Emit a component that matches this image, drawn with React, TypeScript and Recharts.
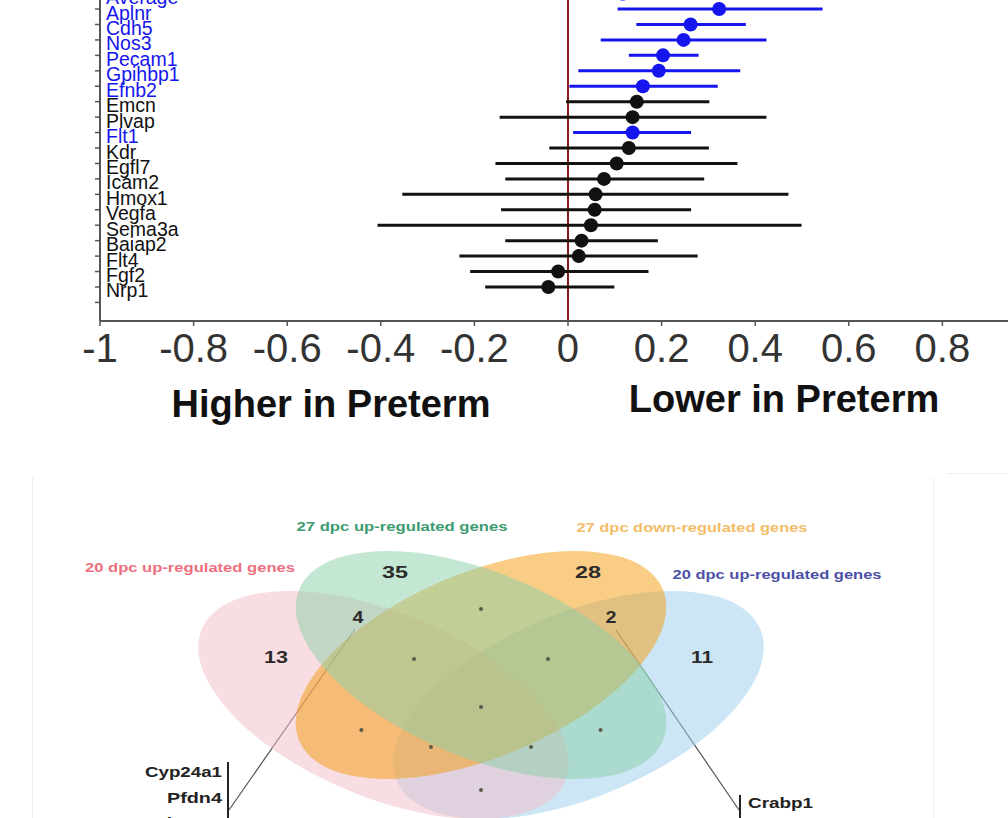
import React from "react";
import { ErrorBar, ReferenceLine, Scatter, ScatterChart, XAxis, YAxis } from "recharts";

// forest plot: log fold change with 95% interval per gene
const genes = [
  "Average", "Aplnr", "Cdh5", "Nos3", "Pecam1", "Gpihbp1", "Efnb2", "Emcn", "Plvap", "Flt1",
  "Kdr", "Egfl7", "Icam2", "Hmox1", "Vegfa", "Sema3a", "Baiap2", "Flt4", "Fgf2", "Nrp1",
];
const means = [
  0.117, 0.323, 0.262, 0.247, 0.203, 0.194, 0.16, 0.147, 0.138, 0.138,
  0.13, 0.104, 0.077, 0.059, 0.057, 0.049, 0.029, 0.023, -0.021, -0.042,
];
const lows = [
  0.03, 0.106, 0.146, 0.07, 0.13, 0.022, 0.003, -0.004, -0.146, 0.011,
  -0.04, -0.155, -0.134, -0.354, -0.143, -0.407, -0.134, -0.232, -0.209, -0.177,
];
const highs = [
  0.2, 0.544, 0.38, 0.424, 0.279, 0.368, 0.32, 0.302, 0.424, 0.263,
  0.301, 0.362, 0.291, 0.471, 0.263, 0.499, 0.192, 0.277, 0.172, 0.099,
];
const endothelialGenes = ["Average", "Aplnr", "Cdh5", "Nos3", "Pecam1", "Gpihbp1", "Efnb2", "Flt1"];
const xTicks = [-1, -0.8, -0.6, -0.4, -0.2, 0, 0.2, 0.4, 0.6, 0.8, 1];

// venn diagram
const vennSetNames = [
  "20 dpc up-regulated genes",
  "27 dpc up-regulated genes",
  "27 dpc down-regulated genes",
  "20 dpc up-regulated genes",
];
const vennCounts = ["35", "28", "4", "2", "13", "11"];
const listLeft = ["Cyp24a1", "Pfdn4", "Slc12a2"];
const listRight = ["Crabp1"];

const FONT = "'Liberation Sans', Arial, Helvetica, sans-serif";
const BLUE = "#1515ee";
const INK = "#111";

const rows = genes.map((gene, i) => ({
  gene,
  row: i,
  mean: means[i],
  err: [means[i] - lows[i], highs[i] - means[i]],
}));
const blueRows = rows.filter((r) => endothelialGenes.includes(r.gene));
const blackRows = rows.filter((r) => !endothelialGenes.includes(r.gene));
const rowTicks = [...genes.map((_, i) => i), genes.length];

function GeneTick(props: any) {
  const { x, y, payload } = props;
  const gene = genes[payload.value];
  if (!gene) return <g />;
  return (
    <text
      x={x + 11}
      y={y + 3.5}
      dominantBaseline="central"
      fontSize={19.5}
      fontFamily={FONT}
      fill={endothelialGenes.includes(gene) ? BLUE : INK}
    >
      {gene}
    </text>
  );
}

const dot = (color: string) => (p: any) => <circle cx={p.cx} cy={p.cy} r={7} fill={color} />;

// venn layout in unit space (R VennDiagram quad layout)
const VW = 650;
const VH = 400;
const ellipseFill = ["#f1bbc5", "#89cfa7", "#f39b0b", "#9bcded"];
const ellipseU = [0.35, 0.5, 0.5, 0.65];
const ellipseV = [0.47, 0.57, 0.57, 0.47];
const ellipseRot = [-45, -45, 45, 45];
const drawOrder = [3, 0, 2, 1];
const ellipses = drawOrder.map((i) => ({ u: ellipseU[i], v: ellipseV[i], rot: ellipseRot[i], fill: ellipseFill[i] }));

const titleColor = ["#ec6f7d", "#3c9c70", "#f3bd68", "#4b4fa6"];
const titles = vennSetNames.map((name, i) => ({
  name,
  u: [0.0523, 0.3785, 0.8246, 0.9554][i],
  v: [0.815, 0.9175, 0.915, 0.7975][i],
  w: [210, 211, 231, 209][i],
  color: titleColor[i],
}));
const counts = vennCounts.map((label, i) => ({
  label,
  u: [0.3677, 0.6646, 0.3108, 0.7, 0.1846, 0.84][i],
  v: [0.8025, 0.8025, 0.69, 0.69, 0.59, 0.59][i],
  w: [26, 26, 11, 11, 24, 22][i],
}));
const emptyCells = [
  { u: 0.5, v: 0.71 }, { u: 0.397, v: 0.585 }, { u: 0.603, v: 0.585 },
  { u: 0.5, v: 0.465 }, { u: 0.316, v: 0.4075 }, { u: 0.684, v: 0.4075 },
  { u: 0.423, v: 0.365 }, { u: 0.577, v: 0.365 }, { u: 0.5, v: 0.2575 },
];
const leftLabels = listLeft.map((label, i) => ({ label, u: 0.1015, v: [0.3025, 0.2375, 0.175][i], w: [77, 55, 67][i] }));
const rightLabels = listRight.map((label) => ({ label, u: 0.9108, v: 0.225, w: 65 }));

const ellipseShape = (p: any) => (
  <ellipse
    cx={0}
    cy={0}
    rx={0.35}
    ry={0.2}
    fill={p.payload.fill}
    fillOpacity={0.5}
    transform={`translate(${p.cx} ${p.cy}) scale(${VW} ${-VH}) rotate(${p.payload.rot})`}
  />
);

const textShape =
  (size: number, anchor: "start" | "middle" | "end", color?: string) => (p: any) => (
    <text
      x={p.cx}
      y={p.cy}
      textAnchor={anchor}
      dominantBaseline="central"
      fontSize={size}
      fontWeight="bold"
      fontFamily={FONT}
      fill={color ?? p.payload.color ?? "#2b2b2b"}
      textLength={p.payload.w}
      lengthAdjust="spacingAndGlyphs"
    >
      {p.payload.label ?? p.payload.name}
    </text>
  );

function ForestPlot() {
  return (
    <ScatterChart width={1056} height={410.96} margin={{ top: 8.16, right: 20, bottom: 0, left: 0 }}>
      <XAxis
        type="number"
        dataKey="mean"
        domain={[-1, 1]}
        ticks={xTicks}
        interval={0}
        allowDataOverflow
        height={60}
        tickSize={5}
        tickMargin={8}
        axisLine={{ stroke: "#555", strokeWidth: 2 }}
        tickLine={{ stroke: "#555", strokeWidth: 1.5 }}
        tick={{ fontSize: 40, fill: "#333", fontFamily: FONT }}
      />
      <YAxis
        type="number"
        dataKey="row"
        reversed
        domain={[-1, 21.2]}
        ticks={rowTicks}
        interval={0}
        allowDataOverflow
        width={100}
        tickSize={5}
        tickMargin={0}
        axisLine={{ stroke: "#555", strokeWidth: 2 }}
        tickLine={{ stroke: "#555", strokeWidth: 1.5 }}
        tick={<GeneTick />}
      />
      <ReferenceLine x={0} stroke="#8b1a1a" strokeWidth={2} />
      <Scatter data={blackRows} shape={dot(INK)} isAnimationActive={false}>
        <ErrorBar dataKey="err" direction="x" width={0} stroke={INK} strokeWidth={3} />
      </Scatter>
      <Scatter data={blueRows} shape={dot(BLUE)} isAnimationActive={false}>
        <ErrorBar dataKey="err" direction="x" width={0} stroke={BLUE} strokeWidth={3} />
      </Scatter>
    </ScatterChart>
  );
}

function VennPanel() {
  return (
    <ScatterChart width={1008} height={480} margin={{ top: 40, right: 1008 - 156 - VW, bottom: 40, left: 156 }}>
      <XAxis type="number" dataKey="u" domain={[0, 1]} hide />
      <YAxis type="number" dataKey="v" domain={[0, 1]} hide />
      <Scatter data={ellipses} shape={ellipseShape} isAnimationActive={false} />
      <Scatter data={emptyCells} shape={(p: any) => <circle cx={p.cx} cy={p.cy} r={2} fill="#5a5a4a" />} isAnimationActive={false} />
      <Scatter data={counts} shape={textShape(16.5, "middle", "#2b2b2b")} isAnimationActive={false} />
      <Scatter data={titles} shape={textShape(13.5, "middle")} isAnimationActive={false} />
      <ReferenceLine segment={[{ x: 0.3062, y: 0.66 }, { x: 0.1123, y: 0.2075 }]} stroke="#555" strokeWidth={1.2} />
      <ReferenceLine segment={[{ x: 0.7077, y: 0.6575 }, { x: 0.8969, y: 0.2075 }]} stroke="#555" strokeWidth={1.2} />
      <ReferenceLine segment={[{ x: 0.1108, y: 0.3275 }, { x: 0.1108, y: 0.12 }]} stroke="#222" strokeWidth={2} />
      <ReferenceLine segment={[{ x: 0.8985, y: 0.245 }, { x: 0.8985, y: 0.12 }]} stroke="#222" strokeWidth={2} />
      <Scatter data={leftLabels} shape={textShape(14, "end", "#222")} isAnimationActive={false} />
      <Scatter data={rightLabels} shape={textShape(14, "start", "#222")} isAnimationActive={false} />
    </ScatterChart>
  );
}

const axisTitle: React.CSSProperties = {
  position: "absolute",
  transform: "translateX(-50%)",
  fontFamily: FONT,
  fontWeight: "bold",
  fontSize: 38,
  lineHeight: 1,
  whiteSpace: "nowrap",
  color: "#111",
};

const faint: React.CSSProperties = { position: "absolute", background: "#efefef" };

export default function App() {
  return (
    <div style={{ position: "absolute", left: 0, top: 0, width: 1008, height: 818, overflow: "hidden", background: "#fff" }}>
      <div style={{ position: "absolute", left: 0, top: -30 }}>
        <ForestPlot />
      </div>
      <div style={{ ...axisTitle, left: 331, top: 384.5 }}>Higher in Preterm</div>
      <div style={{ ...axisTitle, left: 784, top: 379.5 }}>Lower in Preterm</div>
      <div style={{ ...faint, left: 32, top: 477, width: 1, height: 341 }} />
      <div style={{ ...faint, left: 933, top: 477, width: 1, height: 341 }} />
      <div style={{ ...faint, left: 947, top: 473, width: 61, height: 1 }} />
      <div style={{ position: "absolute", left: 0, top: 453 }}>
        <VennPanel />
      </div>
    </div>
  );
}
